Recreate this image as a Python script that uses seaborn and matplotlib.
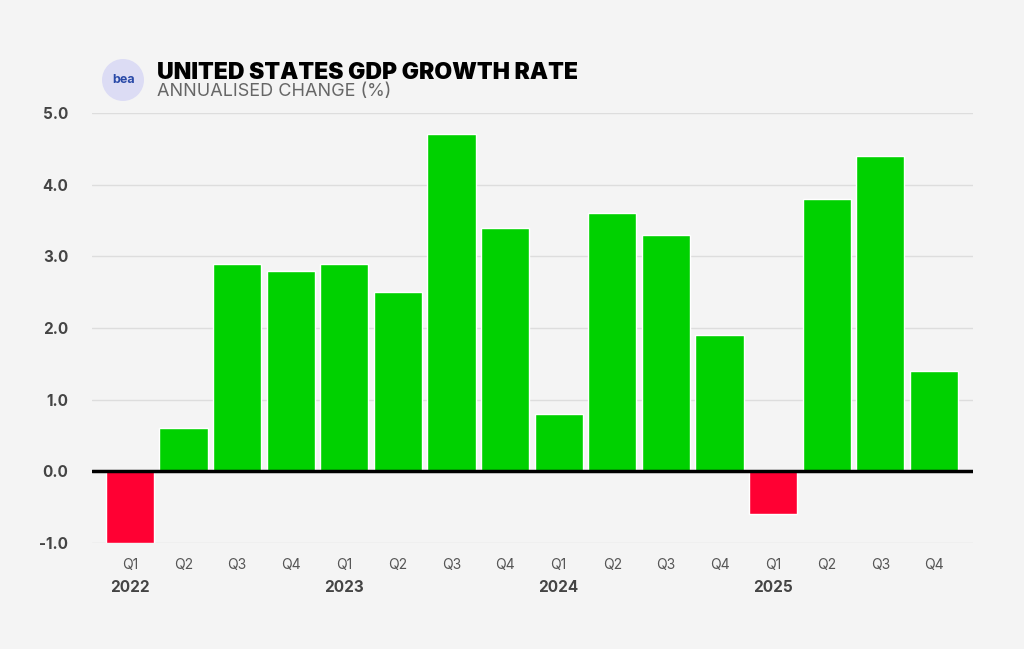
import numpy as np
import pandas as pd
import matplotlib
matplotlib.use("Agg")
import matplotlib.pyplot as plt
import seaborn as sns
from matplotlib.patches import Circle

# Data (annualised quarterly change, %)
years = ["2022", "2023", "2024", "2025"]
quarters = ["Q1", "Q2", "Q3", "Q4"]
growth = [-1.0, 0.6, 2.9, 2.8,
          2.9, 2.5, 4.7, 3.4,
          0.8, 3.6, 3.3, 1.9,
          -0.6, 3.8, 4.4, 1.4]

period = [f"{y} {q}" for y in years for q in quarters]
df = pd.DataFrame({"period": period, "growth": growth})
df["sign"] = np.where(df["growth"] < 0, "neg", "pos")

BG = "#f4f4f4"
sns.set_theme(style="white")
plt.rcParams["font.family"] = ["Inter", "DejaVu Sans"]

fig = plt.figure(figsize=(10.24, 6.49), dpi=100, facecolor=BG)
ax = fig.add_axes([0.0898, 0.1633, 0.8604, 0.6626])
ax.set_facecolor(BG)

sns.barplot(data=df, x="period", y="growth", hue="sign",
            palette={"pos": "#00d100", "neg": "#ff0033"},
            dodge=False, width=0.9, saturation=1, legend=False, ax=ax)

ax.set_xlim(-0.71, 15.73)
ax.set_ylim(-1.0, 5.0)
ax.set_yticks([-1, 0, 1, 2, 3, 4, 5])
ax.set_yticklabels([f"{v:.1f}" for v in [-1, 0, 1, 2, 3, 4, 5]],
                   fontsize=11, fontweight="bold", color="#444444")
ax.tick_params(axis="y", length=0, pad=17)
for v in [-1, 1, 2, 3, 4, 5]:
    ax.axhline(v, color="#dddddd", lw=1, zorder=0)
ax.axhline(0, color="black", lw=2.5, zorder=3)

ax.set_xticks(range(len(period)))
ax.set_xticklabels([q for _ in years for q in quarters],
                   fontsize=10, color="#555555")
ax.tick_params(axis="x", length=0, pad=11)
ax.set_xlabel("")
ax.set_ylabel("")
for s in ax.spines.values():
    s.set_visible(False)

trans = ax.get_xaxis_transform()
for i, y in enumerate(years):
    ax.text(i * 4, -0.103, y, transform=trans, ha="center", va="center",
            fontsize=11, fontweight="bold", color="#444444")

# header with logo
logo = Circle((123, 649 - 80), 21, transform=None, facecolor="#dcdcf4",
              edgecolor="none")
fig.patches.append(logo)
fig.text(124 / 1024, 1 - 80 / 649, "bea", ha="center", va="center",
         fontsize=9, fontweight="bold", color="#2a4aa8")
fig.text(157 / 1024, 1 - 73 / 649, "UNITED STATES GDP GROWTH RATE",
         ha="left", va="center", fontsize=16.5, fontweight="black", color="black")
fig.text(157 / 1024, 1 - 92 / 649, "ANNUALISED CHANGE (%)",
         ha="left", va="center", fontsize=13, fontweight="normal",
         color="#666666")

fig.savefig("out.png", dpi=100, facecolor=BG)
